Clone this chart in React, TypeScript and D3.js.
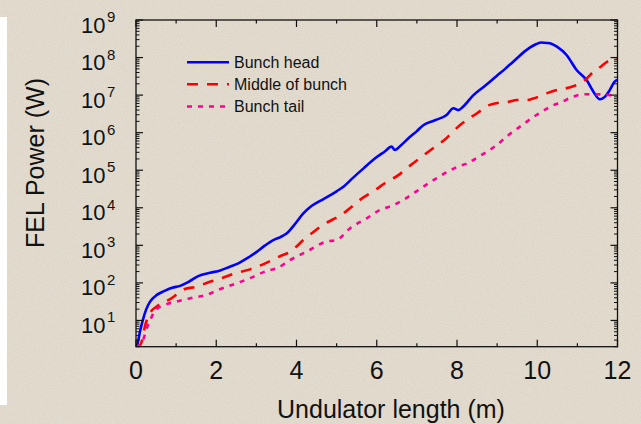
import React from "react";
import * as d3 from "d3";

// Undulator position (m)
const headZ = [0, 0.03, 0.1, 0.17, 0.25, 0.35, 0.52, 0.7, 0.9, 1.1, 1.3, 1.55, 1.85, 2.1, 2.34, 2.55, 2.76, 3.0, 3.17, 3.42, 3.6, 3.76, 3.95, 4.17, 4.35, 4.5, 4.65, 4.8, 5.0, 5.17, 5.4, 5.67, 6.0, 6.2, 6.37, 6.45, 6.6, 6.79, 7.0, 7.16, 7.45, 7.74, 7.91, 8.03, 8.15, 8.41, 8.7, 8.99, 9.2, 9.4, 9.73, 9.98, 10.1, 10.24, 10.35, 10.49, 10.73, 10.98, 11.23, 11.4, 11.56, 11.69, 11.81, 11.93, 12];
// FEL power (W) — bunch head
const headP = [2, 2.24, 5.1, 10.2, 19.1, 31.6, 47.9, 60.3, 74.1, 83.2, 105, 151, 186, 214, 269, 331, 447, 661, 912, 1380, 1660, 2090, 3550, 7080, 10700, 13500, 16600, 20400, 27500, 36300, 61700, 112000, 224000, 316000, 427000, 347000, 457000, 708000, 1.1e6, 1.58e6, 2.14e6, 2.95e6, 4.47e6, 3.98e6, 4.9e6, 1e7, 1.78e7, 3.24e7, 5.0e7, 7.76e7, 1.58e8, 2.29e8, 2.51e8, 2.45e8, 2.34e8, 1.95e8, 1.17e8, 4.68e7, 2.51e7, 1.23e7, 7.76e6, 9.12e6, 1.38e7, 2.29e7, 2.51e7];

const middleZ = [0, 0.06, 0.14, 0.22, 0.35, 0.5, 0.68, 0.85, 1.0, 1.2, 1.51, 1.84, 2.01, 2.43, 2.84, 3.22, 3.59, 3.84, 4.0, 4.17, 4.38, 4.6, 4.75, 4.96, 5.1, 5.33, 5.58, 5.96, 6.21, 6.54, 6.79, 7.12, 7.37, 7.7, 8.07, 8.49, 8.82, 9.05, 9.28, 9.49, 9.73, 9.9, 10.24, 10.44, 10.82, 10.98, 11.19, 11.4, 11.52, 11.81, 12];
const middleP = [2, 2, 2.7, 6.8, 15.8, 22.9, 30.2, 37.2, 47.9, 67.6, 79.4, 107, 120, 174, 229, 331, 513, 676, 933, 1380, 2090, 3160, 3980, 5250, 6310, 9770, 16200, 29500, 45700, 74100, 123000, 229000, 363000, 661000, 1.58e6, 3.24e6, 5.5e6, 6.31e6, 6.61e6, 7.41e6, 7.41e6, 8.13e6, 1.12e7, 1.32e7, 1.62e7, 1.86e7, 2.51e7, 4.17e7, 5.13e7, 8.51e7, 9.55e7];

const tailZ = [0, 0.1, 0.2, 0.27, 0.35, 0.47, 0.68, 1.01, 1.35, 1.76, 2.09, 2.51, 2.92, 3.26, 3.51, 3.84, 4.25, 4.75, 5.0, 5.33, 5.75, 6.08, 6.41, 6.66, 7.16, 7.7, 7.99, 8.24, 8.57, 8.99, 9.3, 9.57, 9.98, 10.32, 10.61, 10.9, 11.15, 11.48, 11.81, 12];
const tailP = [2, 2.24, 3.55, 6.3, 10, 17.8, 25.1, 31.6, 38.9, 47.9, 67.6, 97.7, 145, 209, 245, 407, 676, 1260, 1380, 2820, 5250, 8710, 11700, 16200, 36300, 83200, 120000, 151000, 240000, 468000, 891000, 1.45e6, 2.95e6, 4.9e6, 6.61e6, 9.12e6, 1.05e7, 1.05e7, 1e7, 9.12e6];

const seriesNames = ["Bunch head", "Middle of bunch", "Bunch tail"];
const seriesColors = ["#0000ff", "#ff0000", "#ff0090"];
const seriesDash = ["none", "11,9", "5,6"];

const xTicks = [0, 2, 4, 6, 8, 10, 12];
const yTickExponents = [1, 2, 3, 4, 5, 6, 7, 8, 9];

const W = 641;
const H = 424;
const L = 136, R = 617.5, T = 20, B = 346.7;
const FONT = "'Liberation Sans', Arial, Helvetica, sans-serif";

export default function App() {
  const x = d3.scaleLinear().domain([0, 12]).range([L, R]);
  const y = d3.scaleLog().domain([2, 1e9]).range([B, T]);

  const series = [
    headZ.map((z, i) => [z, headP[i]] as [number, number]),
    middleZ.map((z, i) => [z, middleP[i]] as [number, number]),
    tailZ.map((z, i) => [z, tailP[i]] as [number, number]),
  ];
  const line = d3
    .line<[number, number]>()
    .x((d) => x(d[0]))
    .y((d) => y(d[1]))
    .curve(d3.curveMonotoneX);

  const minorY: number[] = [];
  for (let k = 0; k <= 8; k++) {
    for (let m = 2; m <= 9; m++) {
      const v = m * Math.pow(10, k);
      if (v >= 2 && v <= 1e9) minorY.push(v);
    }
  }
  const minorX = d3.range(1, 12, 2);

  const tickEls: React.ReactNode[] = [];
  const stroke = "#111";
  xTicks.forEach((t, i) => {
    tickEls.push(<line key={"xb" + i} x1={x(t)} x2={x(t)} y1={B} y2={B - 7} stroke={stroke} strokeWidth={1.2} />);
    tickEls.push(<line key={"xt" + i} x1={x(t)} x2={x(t)} y1={T} y2={T + 7} stroke={stroke} strokeWidth={1.2} />);
  });
  minorX.forEach((t, i) => {
    tickEls.push(<line key={"mxb" + i} x1={x(t)} x2={x(t)} y1={B} y2={B - 3.5} stroke={stroke} strokeWidth={1.2} />);
    tickEls.push(<line key={"mxt" + i} x1={x(t)} x2={x(t)} y1={T} y2={T + 3.5} stroke={stroke} strokeWidth={1.2} />);
  });
  yTickExponents.forEach((e, i) => {
    const yy = y(Math.pow(10, e));
    tickEls.push(<line key={"yl" + i} x1={L} x2={L + 7} y1={yy} y2={yy} stroke={stroke} strokeWidth={1.2} />);
    tickEls.push(<line key={"yr" + i} x1={R} x2={R - 7} y1={yy} y2={yy} stroke={stroke} strokeWidth={1.2} />);
  });
  minorY.forEach((v, i) => {
    const yy = y(v);
    tickEls.push(<line key={"myl" + i} x1={L} x2={L + 3.5} y1={yy} y2={yy} stroke={stroke} strokeWidth={1} />);
    tickEls.push(<line key={"myr" + i} x1={R} x2={R - 3.5} y1={yy} y2={yy} stroke={stroke} strokeWidth={1} />);
  });

  const legendRows = [62.3, 84.3, 106.5];

  return (
    <svg
      width={W}
      height={H}
      style={{ position: "fixed", left: 0, top: 0, display: "block" }}
      fontFamily={FONT}
    >
      <defs>
        <clipPath id="plotclip">
          <rect x={L} y={T} width={R - L} height={B - T} />
        </clipPath>
        <filter id="grain" x="0" y="0" width="100%" height="100%">
          <feTurbulence type="fractalNoise" baseFrequency="0.9" numOctaves="2" seed="3" result="n" />
          <feColorMatrix type="matrix" values="0 0 0 0 0.45  0 0 0 0 0.42  0 0 0 0 0.38  0 0 0 -1.6 0.95" />
        </filter>
      </defs>
      <rect x={0} y={0} width={W} height={H} fill="#e2dbce" />
      <rect x={0} y={0} width={W} height={H} filter="url(#grain)" opacity={0.25} />
      <rect x={0} y={17} width={7} height={388} fill="#ffffff" />

      <g clipPath="url(#plotclip)">
        {series.map((s, i) => (
          <path
            key={i}
            d={line(s) || ""}
            fill="none"
            stroke={seriesColors[i]}
            strokeWidth={2.6}
            strokeDasharray={seriesDash[i]}
            strokeLinejoin="round"
          />
        ))}
      </g>

      <rect x={L} y={T} width={R - L} height={B - T} fill="none" stroke={stroke} strokeWidth={1.3} />
      {tickEls}

      {xTicks.map((t, i) => (
        <text key={"xl" + i} x={x(t)} y={378.5} textAnchor="middle" fontSize={25} fill="#111">
          {t}
        </text>
      ))}
      {yTickExponents.map((e, i) => {
        const yy = y(Math.pow(10, e));
        return (
          <g key={"yt" + i}>
            <text x={105.5} y={yy + 12.5} textAnchor="end" fontSize={22} fill="#111">
              10
            </text>
            <text x={107} y={yy + 2} textAnchor="start" fontSize={15} fill="#111">
              {e}
            </text>
          </g>
        );
      })}

      <text x={391} y={418} textAnchor="middle" fontSize={25} fill="#111">
        Undulator length (m)
      </text>
      <text
        transform="translate(44,163) rotate(-90)"
        textAnchor="middle"
        fontSize={25}
        fill="#111"
      >
        FEL Power (W)
      </text>

      {seriesNames.map((n, i) => (
        <g key={"lg" + i}>
          <line
            x1={187}
            x2={229}
            y1={legendRows[i]}
            y2={legendRows[i]}
            stroke={seriesColors[i]}
            strokeWidth={2.6}
            strokeDasharray={seriesDash[i]}
          />
          <text x={234} y={legendRows[i] + 5.5} fontSize={16} fill="#111">
            {n}
          </text>
        </g>
      ))}
    </svg>
  );
}
